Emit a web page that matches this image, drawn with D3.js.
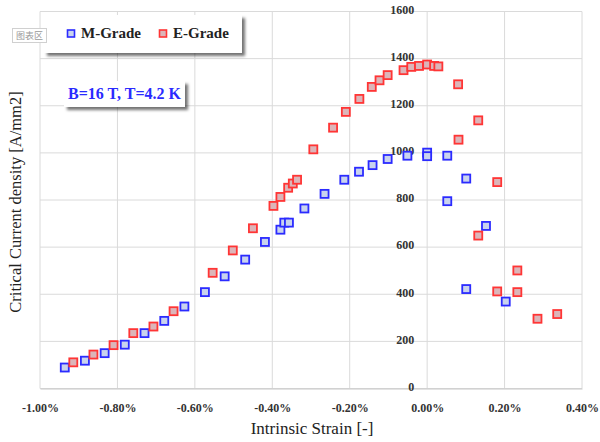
<!DOCTYPE html>
<html>
<head>
<meta charset="utf-8">
<script src="https://cdn.jsdelivr.net/npm/d3@7"></script>
<style>
    html, body { margin: 0; padding: 0; background: #fff; }
    svg { display: block; }
    .tick text { font-family: "Liberation Serif", serif; font-weight: bold; font-size: 12px; fill: #333; }
</style>
</head>
<body>
<svg id="chart" width="600" height="442"></svg>
<script>
// Data (strain in %, Jc in A/mm2)
const mGradeStrain = [-0.936, -0.884, -0.833, -0.781, -0.730, -0.679, -0.627, -0.574, -0.523, -0.470,
    -0.419, -0.379, -0.369, -0.357, -0.317, -0.265, -0.214, -0.176, -0.141, -0.102,
    -0.051, 0.000, 0.000, 0.052, 0.101, 0.052, 0.152, 0.101, 0.203];
const mGradeJc = [89, 118, 150, 186, 235, 287, 348, 409, 476, 547,
    622, 674, 704, 704, 764, 826, 886, 920, 948, 974,
    988, 1001, 986, 988, 891, 795, 690, 422, 369];

const eGradeStrain = [-0.914, -0.862, -0.810, -0.759, -0.707, -0.655, -0.554, -0.502, -0.450, -0.397,
    -0.379, -0.359, -0.347, -0.336, -0.294, -0.243, -0.210, -0.175, -0.143, -0.123,
    -0.102, -0.061, -0.041, -0.021, 0.000, 0.018, 0.029, 0.080, 0.081, 0.132,
    0.132, 0.181, 0.181, 0.233, 0.233, 0.285, 0.336];
const eGradeJc = [111, 144, 184, 235, 263, 328, 491, 586, 680, 775,
    813, 852, 870, 886, 1015, 1107, 1174, 1229, 1280, 1308,
    1330, 1351, 1365, 1369, 1375, 1369, 1367, 1291, 1056, 1138,
    649, 876, 412, 501, 409, 296, 316];

const xTicks = [-1.0, -0.8, -0.6, -0.4, -0.2, 0.0, 0.2, 0.4];
const yTicks = [0, 200, 400, 600, 800, 1000, 1200, 1400, 1600];

const svg = d3.select('#chart');

// Shadow filter
const defs = svg.append('defs');
const shadow = defs.append('filter').attr('id', 'shadow')
    .attr('x', '-10%').attr('y', '-10%').attr('width', '130%').attr('height', '150%');
shadow.append('feDropShadow')
    .attr('dx', 3).attr('dy', 3).attr('stdDeviation', 1.5)
    .attr('flood-color', '#000').attr('flood-opacity', 0.55);

// Scales
const x = d3.scaleLinear().domain([-1.0, 0.4]).range([40, 582]);
const y = d3.scaleLinear().domain([0, 1600]).range([388.5, 11.5]);

// Gridlines
svg.append('g')
    .selectAll('line')
    .data(yTicks)
    .enter()
    .append('line')
    .attr('x1', x(-1.0)).attr('x2', x(0.4))
    .attr('y1', d => y(d)).attr('y2', d => y(d))
    .attr('stroke', '#dadada').attr('stroke-width', 1);

svg.append('g')
    .selectAll('line')
    .data(xTicks)
    .enter()
    .append('line')
    .attr('x1', d => x(d)).attr('x2', d => x(d))
    .attr('y1', y(0)).attr('y2', y(1600))
    .attr('stroke', '#dadada').attr('stroke-width', 1);

// Bottom axis
const xAxis = svg.append('g')
    .attr('transform', `translate(0,${y(0)})`)
    .call(d3.axisBottom(x).tickValues(xTicks).tickSize(0).tickPadding(15)
        .tickFormat(d => d.toFixed(2) + '%'));
xAxis.select('.domain').attr('stroke', '#c8c8c8');

// Y axis crossing at x = 0
const yAxis = svg.append('g')
    .attr('transform', `translate(${x(0)},0)`)
    .call(d3.axisLeft(y).tickValues(yTicks).tickSize(0).tickPadding(13)
        .tickFormat(d3.format('d')));
yAxis.select('.domain').remove();
yAxis.selectAll('.tick text').attr('dy', '0.15em');

// Axis titles
svg.append('text')
    .attr('x', 312).attr('y', 434)
    .attr('text-anchor', 'middle')
    .attr('font-family', 'Liberation Serif, serif')
    .attr('font-size', '17px')
    .attr('fill', '#222')
    .text('Intrinsic Strain [-]');

svg.append('text')
    .attr('transform', 'translate(21,202) rotate(-90)')
    .attr('text-anchor', 'middle')
    .attr('font-family', 'Liberation Serif, serif')
    .attr('font-size', '16.5px')
    .attr('fill', '#222')
    .text('Critical Current density [A/mm2]');

// Markers
function drawSeries(xs, ys, stroke, fill) {
    svg.append('g')
        .selectAll('rect')
        .data(xs.map((v, i) => [v, ys[i]]))
        .enter()
        .append('rect')
        .attr('x', d => x(d[0]) - 4)
        .attr('y', d => y(d[1]) - 4)
        .attr('width', 8)
        .attr('height', 8)
        .attr('fill', fill)
        .attr('stroke', stroke)
        .attr('stroke-width', 1.8);
}
drawSeries(mGradeStrain, mGradeJc, '#2b2bff', '#c9d3ee');
drawSeries(eGradeStrain, eGradeJc, '#ff3535', '#dcb5b9');

// Legend
const legend = svg.append('g');
legend.append('rect')
    .attr('x', 44).attr('y', 15).attr('width', 198).attr('height', 38)
    .attr('fill', '#fff').attr('filter', 'url(#shadow)');

const legendItems = [
    { label: 'M-Grade', x: 71, stroke: '#2b2bff', fill: '#c9d3ee' },
    { label: 'E-Grade', x: 163, stroke: '#ff3535', fill: '#dcb5b9' }
];
legendItems.forEach(item => {
    legend.append('rect')
        .attr('x', item.x - 3.5).attr('y', 30)
        .attr('width', 7).attr('height', 7)
        .attr('fill', item.fill).attr('stroke', item.stroke).attr('stroke-width', 1.6);
    legend.append('text')
        .attr('x', item.x + 10).attr('y', 38)
        .attr('font-family', 'Liberation Serif, serif')
        .attr('font-weight', 'bold')
        .attr('font-size', '15px')
        .attr('fill', '#222')
        .text(item.label);
});

// Chart area tag
svg.append('rect')
    .attr('x', 12.5).attr('y', 28.5).attr('width', 34).attr('height', 14)
    .attr('fill', '#fff').attr('stroke', '#d0d0d0');
svg.append('text')
    .attr('x', 29.5).attr('y', 39)
    .attr('text-anchor', 'middle')
    .attr('font-family', 'Noto Sans CJK SC, sans-serif')
    .attr('font-size', '9px')
    .attr('fill', '#999')
    .text('图表区');

// Condition annotation
svg.append('rect')
    .attr('x', 64).attr('y', 81).attr('width', 121).attr('height', 26)
    .attr('fill', '#fff').attr('filter', 'url(#shadow)');
svg.append('text')
    .attr('x', 124.5).attr('y', 99)
    .attr('text-anchor', 'middle')
    .attr('font-family', 'Liberation Serif, serif')
    .attr('font-weight', 'bold')
    .attr('font-size', '16px')
    .attr('fill', '#2a2aff')
    .text('B=16 T, T=4.2 K');
</script>
</body>
</html>
